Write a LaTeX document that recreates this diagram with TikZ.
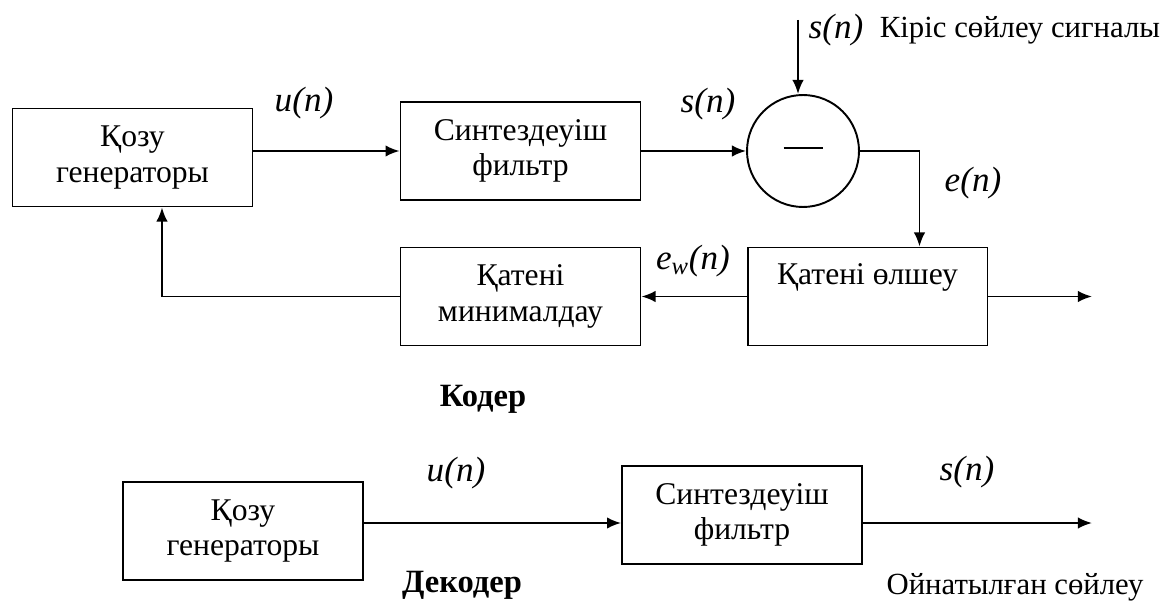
\documentclass[tikz,border=0pt]{standalone}
\usepackage{fontspec}
\setmainfont{Liberation Serif}
\usetikzlibrary{arrows.meta}

\begin{document}
\begin{tikzpicture}[x=0.02cm,y=-0.02cm,
	bloc/.style={draw,line width=1.1pt,minimum width=4.8cm,minimum height=1.96cm,
		inner sep=0pt,align=center,font=\fontsize{18}{20}\selectfont},
	somme/.style={draw,line width=1.1pt,circle,minimum size=2.24cm,inner sep=0pt},
	fleche/.style={-{Latex[length=8pt,width=6.5pt]},line width=1.1pt},
	trait/.style={line width=1.1pt},
	sig/.style={font=\fontsize{20}{22}\selectfont\itshape},
	txt/.style={font=\fontsize{17.5}{21}\selectfont},
	titre/.style={font=\fontsize{18.5}{21}\selectfont\bfseries}]
	% Cadre de la figure
	\useasboundingbox (0,0) rectangle (1166,604);
	% Codeur : blocs
	\node[bloc] (gen) at (132.5,157.5) {Қозу\\генераторы};
	\node[bloc] (synth) at (520.5,151) {Синтездеуіш\\фильтр};
	\node[somme] (sub) at (803,151) {};
	\node[bloc] (mesure) at (867.5,296.5) {Қатені өлшеу\\ \strut};
	\node[bloc] (mini) at (520.5,296.5) {Қатені\\минималдау};
	\draw[trait] ([xshift=-0.39cm,yshift=0.06cm]sub.center) -- ([xshift=0.39cm,yshift=0.06cm]sub.center);
	% Codeur : signaux
	\coordinate (entree) at (798,20);
	\coordinate (sortie1) at (1092,296.5);
	\draw[fleche] (entree) -- (entree |- sub.north);
	\draw[fleche] (gen.east |- synth.west) -- (synth.west);
	\draw[fleche] (synth.east) -- (sub.west);
	\draw[fleche] (sub.east) -| ([xshift=1.04cm]mesure.north);
	\draw[fleche] (mesure.east) -- (sortie1);
	\draw[fleche] (mesure.west) -- (mini.east);
	\draw[fleche] (mini.west) -| ([xshift=0.59cm]gen.south);
	\node[sig] (u1) at (304,103) {u(n)};
	\node[sig] (s1) at (708,104) {s(n)};
	\node[sig] (s0) at (836,30) {s(n)};
	\node[txt] (kiris) at (1020,30) {Кіріс сөйлеу сигналы};
	\node[sig] (e1) at (973,183) {e(n)};
	\node[sig] (ew) at (693,261) {e\textsubscript{w}(n)};
	\node[titre] (coder) at (483,399) {Кодер};
	% Decodeur
	\node[bloc] (gen2) at (243,531) {Қозу\\генераторы};
	\node[bloc] (synth2) at (742,515) {Синтездеуіш\\фильтр};
	\coordinate (sortie2) at (1092,523);
	\draw[fleche] ([yshift=0.16cm]gen2.east) -- ([yshift=-0.16cm]synth2.west);
	\draw[fleche] ([yshift=-0.16cm]synth2.east) -- (sortie2);
	\node[sig] (u2) at (456,473) {u(n)};
	\node[sig] (s2) at (967,472) {s(n)};
	\node[titre] (decoder) at (462,585) {Декодер};
	\node[txt] (play) at (1015,587) {Ойнатылған сөйлеу};
\end{tikzpicture}
\end{document}
